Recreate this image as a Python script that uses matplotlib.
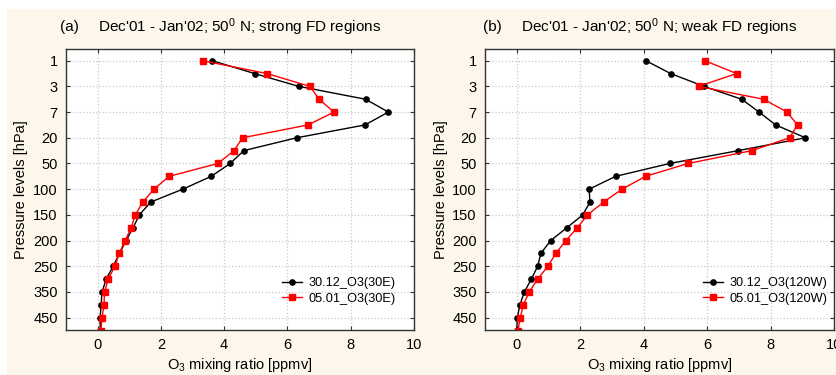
import numpy as np
import matplotlib
matplotlib.use("Agg")
import matplotlib.pyplot as plt
from matplotlib.patches import Rectangle

plt.rcParams['font.family'] = ['Liberation Sans', 'DejaVu Sans']
plt.rcParams['mathtext.fontset'] = 'custom'
plt.rcParams['mathtext.rm'] = 'Liberation Sans'
plt.rcParams['mathtext.it'] = 'Liberation Sans:italic'
plt.rcParams['mathtext.bf'] = 'Liberation Sans:bold'

# pressure levels (hPa), plotted as equally spaced categories
levels = [1, 2, 3, 5, 7, 10, 20, 30, 50, 70, 100, 125, 150, 175,
          200, 225, 250, 300, 350, 400, 450, 500]
tick_labels = ['1', '3', '7', '20', '50', '100', '150', '200', '250', '350', '450']

# (a) strong FD regions, 30E
o3_3012_30e = [3.62, 4.96, 6.36, 8.47, 9.19, 8.45, 6.29, 4.62, 4.19, 3.59, 2.69,
               1.68, 1.32, 1.12, 0.90, 0.69, 0.49, 0.27, 0.14, 0.11, 0.08, 0.08]
o3_0501_30e = [3.32, 5.35, 6.71, 7.00, 7.47, 6.65, 4.58, 4.31, 3.80, 2.26, 1.78,
               1.43, 1.19, 1.06, 0.87, 0.68, 0.55, 0.33, 0.22, 0.20, 0.14, 0.10]

# (b) weak FD regions, 120W
o3_3012_120w = [4.07, 4.85, 5.90, 7.09, 7.64, 8.16, 9.10, 6.98, 4.82, 3.12, 2.28,
                2.31, 2.08, 1.58, 1.07, 0.76, 0.66, 0.46, 0.24, 0.10, 0.02, 0.00]
o3_0501_120w = [5.93, 6.93, 5.73, 7.78, 8.52, 8.85, 8.60, 7.41, 5.40, 4.06, 3.32,
                2.74, 2.23, 1.91, 1.55, 1.23, 0.98, 0.66, 0.39, 0.21, 0.11, 0.04]

W, H = 836, 375
fig = plt.figure(figsize=(W / 100, H / 100), dpi=100)
fig.patch.set_facecolor('white')
fig.add_artist(Rectangle((7 / W, 0), 1 - 7 / W, 1 - 9 / H, transform=fig.transFigure,
                         facecolor='#fcf7ea', edgecolor='none', zorder=-10))

y = np.arange(len(levels))


def px(x0, y0):
    return x0 / W, 1 - y0 / H


def panel(left, right, black, red, lab_black, lab_red, tag, title, tag_x, title_x, leg_x):
    ax = fig.add_axes([left / W, 1 - 330 / H, (right - left) / W, (330 - 49) / H])
    ax.set_facecolor('white')
    ax.plot(black, y, color='black', marker='o', markersize=3.8, lw=1, label=lab_black)
    ax.plot(red, y, color='#ff0000', marker='s', markersize=4.5, lw=1, label=lab_red)
    ax.set_xlim(-1, 10)
    ax.set_ylim(20.96, -0.91)
    ax.set_xticks([0, 2, 4, 6, 8, 10])
    ax.set_yticks(y[::2])
    ax.set_yticklabels(tick_labels)
    ax.grid(True, color='#c8c8c8', linestyle=':', linewidth=0.9)
    ax.tick_params(direction='in', length=3, top=True, right=True, labelsize=10.5,
                   pad=6, color='#333333')
    for s in ax.spines.values():
        s.set_color('#333333')
        s.set_linewidth(1)
    ax.set_xlabel('O$_3$ mixing ratio [ppmv]', fontsize=10.5, labelpad=3)
    ax.set_ylabel('Pressure levels [hPa]', fontsize=10.5)
    ax.legend(loc='center left', bbox_to_anchor=(leg_x, 0.139), frameon=False,
              fontsize=9.2, handlelength=1.6, handletextpad=0.5, labelspacing=0.25,
              borderaxespad=0)
    fig.text(*px(tag_x, 27), tag, fontsize=11, va='center')
    fig.text(*px(title_x, 27), title, fontsize=11, va='center')
    return ax


axa = panel(66, 414, o3_3012_30e, o3_0501_30e, '30.12_O3(30E)', '05.01_O3(30E)',
            '(a)', "Dec'01 - Jan'02; 50$^0$ N; strong FD regions", 60, 98, 0.605)
axa.yaxis.set_label_coords(-0.109, 0.5)
axb = panel(485, 834, o3_3012_120w, o3_0501_120w, '30.12_O3(120W)', '05.01_O3(120W)',
            '(b)', "Dec'01 - Jan'02; 50$^0$ N; weak FD regions", 483, 521, 0.61)
axb.yaxis.set_label_coords(-0.106, 0.5)

fig.savefig('out.png', dpi=100)
